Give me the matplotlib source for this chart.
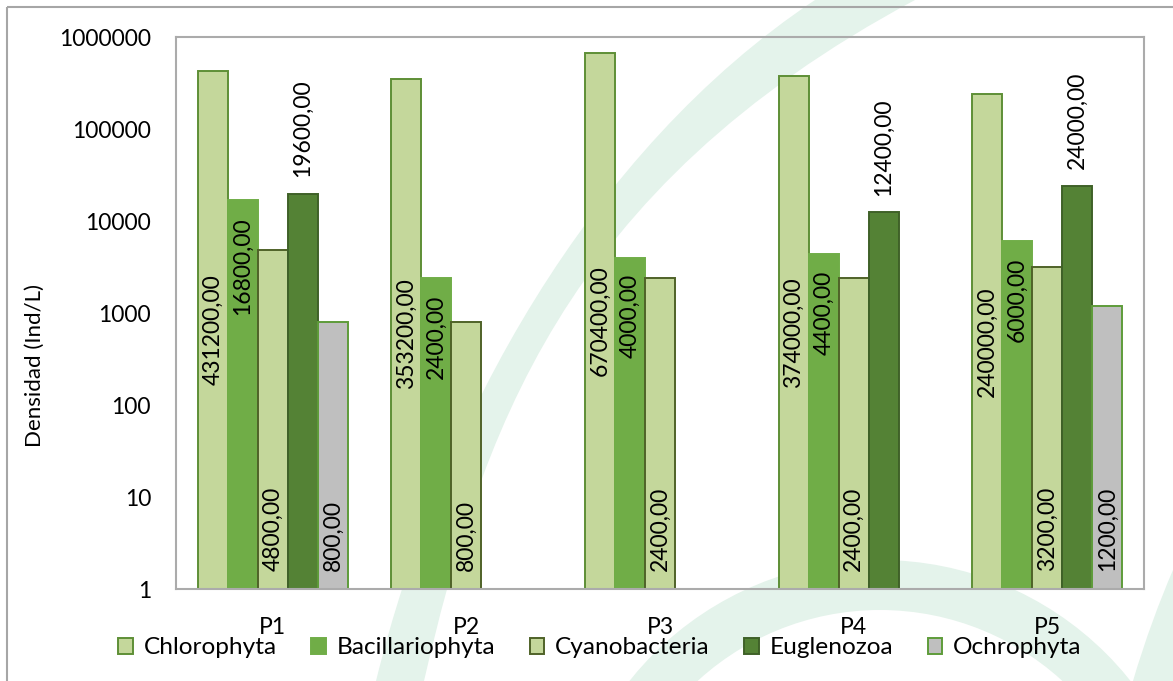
import numpy as np
import matplotlib
matplotlib.use("Agg")
import matplotlib.pyplot as plt
from matplotlib.path import Path
from matplotlib.patches import PathPatch, Rectangle, Wedge

# --- data -------------------------------------------------------------
sites = ["P1", "P2", "P3", "P4", "P5"]
chlorophyta = [431200, 353200, 670400, 374000, 240000]
bacillariophyta = [16800, 2400, 4000, 4400, 6000]
cyanobacteria = [4800, 800, 2400, 2400, 3200]
euglenozoa = [19600, np.nan, np.nan, 12400, 24000]
ochrophyta = [800, np.nan, np.nan, np.nan, 1200]
y_ticks = [1, 10, 100, 1000, 10000, 100000, 1000000]
y_label = "Densidad (Ind/L)"

# --- styling ----------------------------------------------------------
plt.rcParams["font.family"] = ["Lato", "DejaVu Sans"]
FS = 16.5
W, H = 1173, 681
fig = plt.figure(figsize=(W / 100, H / 100), dpi=100)

# background decoration, drawn in pixel units
bg = fig.add_axes([0, 0, 1, 1], zorder=0)
bg.set_xlim(0, W)
bg.set_ylim(H, 0)
bg.axis("off")
mint = "#E4F3EB"


def band(left_pts, right_pts):
    verts = list(left_pts) + list(right_pts) + [left_pts[0]]
    codes = ([Path.MOVETO] + [Path.CURVE4] * 3 + [Path.LINETO]
             + [Path.CURVE4] * 3 + [Path.CLOSEPOLY])
    bg.add_patch(PathPatch(Path(verts, codes), fc=mint, ec="none"))


band([(376, 681), (440, 420), (590, 150), (815, 0)],
     [(915, 0), (560, 190), (480, 440), (424, 681)])
bg.add_patch(Wedge((880, 880), 320, 180, 360, width=50, fc=mint, ec="none"))
band([(1133, 681), (1145, 640), (1160, 600), (1173, 570)],
     [(1180, 570), (1180, 620), (1180, 660), (1180, 681)])

# outer frame
bg.add_patch(Rectangle((7, 7), W + 10, H + 10, fill=False,
                       ec="#A6A6A6", lw=1.5))

# --- chart ------------------------------------------------------------
ax = fig.add_axes([176 / W, 1 - 589 / H, (1144 - 176) / W, (589 - 37) / H],
                  zorder=1)
ax.set_facecolor("none")

series = [
    ("Chlorophyta", chlorophyta, "#C4D79B", "#5E8F36", "center"),
    ("Bacillariophyta", bacillariophyta, "#70AD47", "#70AD47", "inside_end"),
    ("Cyanobacteria", cyanobacteria, "#C4D79B", "#4F6228", "inside_base"),
    ("Euglenozoa", euglenozoa, "#548235", "#3F6128", "outside_end"),
    ("Ochrophyta", ochrophyta, "#BFBFBF", "#5E9C3A", "inside_base"),
]

n = len(series)
gap = 1.45
bw = 1.0 / (n + gap)
x = np.arange(len(sites))
for i, (name, vals, fc, ec, pos) in enumerate(series):
    xs = x + (i - (n - 1) / 2) * bw
    v = np.array(vals, dtype=float)
    ax.bar(xs, v, width=bw, bottom=0, color=fc, edgecolor=ec, lw=1.4,
           label=name, zorder=2)
    for xi, vi in zip(xs, v):
        if np.isnan(vi):
            continue
        txt = f"{vi:.2f}".replace(".", ",")
        kw = dict(rotation=90, ha="center", fontsize=FS, color="black",
                  zorder=3)
        if pos == "center":
            ax.text(xi, np.sqrt(vi), txt, va="center", **kw)
        elif pos == "inside_end":
            ax.annotate(txt, (xi, vi), xytext=(0, -12),
                        textcoords="offset points", va="top", **kw)
        elif pos == "inside_base":
            ax.annotate(txt, (xi, 1), xytext=(0, 13),
                        textcoords="offset points", va="bottom", **kw)
        else:
            ax.annotate(txt, (xi, vi), xytext=(0, 12),
                        textcoords="offset points", va="bottom", **kw)

ax.set_yscale("log")
ax.set_ylim(1, 1e6)
ax.set_xlim(-0.5, len(sites) - 0.5)
ax.set_yticks(y_ticks)
ax.set_yticklabels([str(t) for t in y_ticks])
ax.yaxis.set_minor_locator(matplotlib.ticker.NullLocator())
ax.set_xticks(x)
ax.set_xticklabels(sites)
ax.tick_params(axis="both", length=0, labelsize=FS)
ax.tick_params(axis="y", pad=18)
ax.tick_params(axis="x", pad=20)
for s in ax.spines.values():
    s.set_color("#ABABAB")
    s.set_linewidth(1.5)
ax.set_ylabel(y_label, fontsize=FS - 0.5)
ax.yaxis.set_label_coords(-0.135, 0.405)

leg = fig.legend(loc="center", bbox_to_anchor=(600 / W, 1 - 648 / H),
                 ncol=5, frameon=False, fontsize=17.6, handlelength=0.6,
                 handleheight=0.6, handletextpad=0.45, columnspacing=1.4)

fig.savefig("out.png", dpi=100)
